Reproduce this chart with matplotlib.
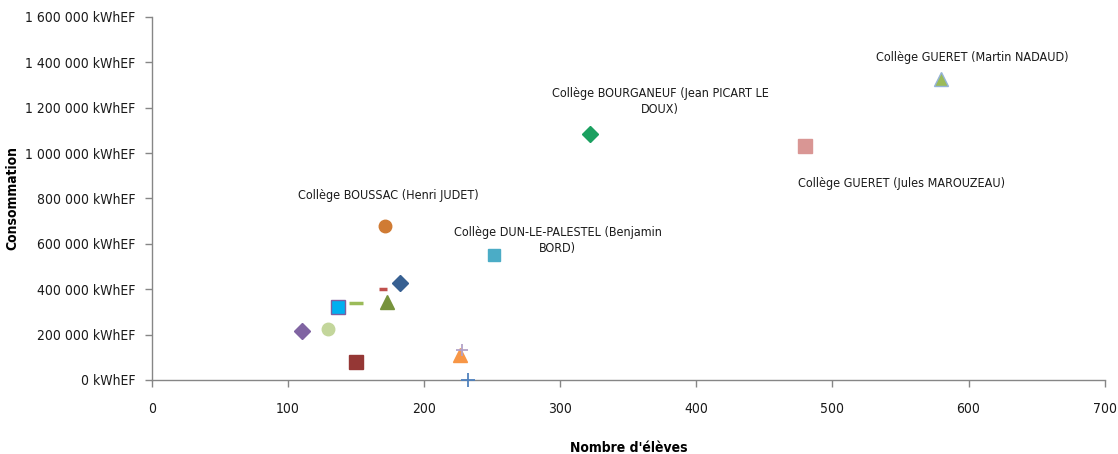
import matplotlib
matplotlib.use("Agg")
import matplotlib.pyplot as plt
from matplotlib.ticker import FuncFormatter, MultipleLocator

plt.rcParams['font.family'] = ['DejaVu Sans']
plt.rcParams['font.stretch'] = 'condensed'

# nombre d'élèves et consommation annuelle par collège
eleves = [110, 129, 137, 150, 150, 170, 173, 182, 171, 226, 228, 232, 251, 322, 480, 580]
conso = [216000, 225000, 322000, 339000, 79000, 401000, 345000, 428000,
         679000, 110000, 132000, 0, 551000, 1084000, 1031000, 1327000]
etiquettes = ["", "", "", "", "", "", "", "",
              "Collège BOUSSAC (Henri JUDET)", "", "", "",
              "Collège DUN-LE-PALESTEL (Benjamin\nBORD)",
              "Collège BOURGANEUF (Jean PICART LE\nDOUX)",
              "Collège GUERET (Jules MAROUZEAU)",
              "Collège GUERET (Martin NADAUD)"]

# style de chaque série : (marqueur, couleur, bord, taille)
styles = [
    ('D', '#8064A2', '#8064A2', 8),
    ('o', '#C3D69B', '#C3D69B', 9),
    ('s', '#00B0F0', '#7F5FA0', 10),
    ('_', '#9BBB59', '#9BBB59', 10),
    ('s', '#953735', '#953735', 10),
    ('_', '#C0504D', '#C0504D', 6),
    ('^', '#77933C', '#77933C', 10),
    ('D', '#376092', '#376092', 8),
    ('o', '#D07B33', '#D07B33', 9),
    ('^', '#F79646', '#F79646', 10),
    ('+', '#B3A2C7', '#B3A2C7', 9),
    ('+', '#4F81BD', '#4F81BD', 10),
    ('s', '#4BACC6', '#4BACC6', 9),
    ('D', '#1BA060', '#1BA060', 8),
    ('s', '#D99694', '#D99694', 10),
    ('^', '#9BBB59', '#95B3D7', 10),
]

# décalage des étiquettes en pixels (dx, dy)
decalages = {8: (4, 30), 12: (64, 14), 13: (70, 33), 14: (96, -37), 15: (31, 21)}

fig = plt.figure(figsize=(11.18, 4.54), dpi=100)
ax = fig.add_axes([0.136, 0.163, 0.852, 0.7996])

for x, y, (m, c, ec, s) in zip(eleves, conso, styles):
    mew = 2.5 if m == '_' else (1.3 if m == '+' else 1)
    ax.plot(x, y, marker=m, color=c, markerfacecolor=c, markeredgecolor=ec,
            markersize=s, markeredgewidth=mew, linestyle='none', clip_on=False, zorder=3)

for i, txt in enumerate(etiquettes):
    if not txt:
        continue
    dx, dy = decalages[i]
    ax.annotate(txt, (eleves[i], conso[i]), xytext=(dx * 0.72, dy * 0.72),
                textcoords='offset points', ha='center', va='center',
                fontsize=9, color='#1a1a1a', linespacing=1.3)

ax.set_xlim(0, 700)
ax.set_ylim(0, 1600000)
ax.xaxis.set_major_locator(MultipleLocator(100))
ax.yaxis.set_major_locator(MultipleLocator(200000))


def fmt_kwh(v, pos):
    return '{:,.0f}'.format(v).replace(',', ' ') + ' kWhEF'


ax.yaxis.set_major_formatter(FuncFormatter(fmt_kwh))

for side in ('top', 'right'):
    ax.spines[side].set_visible(False)
for side in ('left', 'bottom'):
    ax.spines[side].set_color('#868686')
    ax.spines[side].set_linewidth(1)
ax.tick_params(axis='both', colors='#868686', labelcolor='#1a1a1a',
               labelsize=10, length=5, width=1, direction='out')
ax.tick_params(axis='x', pad=11)
ax.tick_params(axis='y', pad=7)

ax.set_xlabel("Nombre d'élèves", fontsize=10, fontweight='bold', labelpad=18)
ax.set_ylabel("Consommation", fontsize=10, fontweight='bold', labelpad=4)

fig.savefig('out.png', dpi=100)
